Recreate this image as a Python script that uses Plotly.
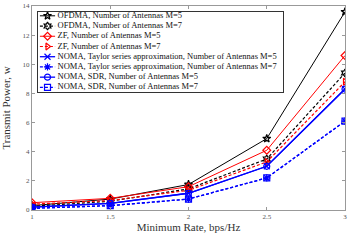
import plotly.graph_objects as go

rates = [1, 1.5, 2, 2.5, 3]
ofdma_m5 = [0.3, 0.75, 1.75, 4.9, 13.6]
ofdma_m7 = [0.25, 0.6, 1.45, 3.5, 9.4]
zf_m5 = [0.5, 0.8, 1.6, 4.1, 10.6]
zf_m7 = [0.4, 0.65, 1.35, 3.3, 8.8]
noma_taylor_m5 = [0.2, 0.45, 1.15, 3.0, 8.3]
noma_taylor_m7 = [0.12, 0.3, 0.75, 2.2, 6.1]
noma_sdr_m5 = [0.2, 0.45, 1.15, 3.0, 8.3]
noma_sdr_m7 = [0.12, 0.3, 0.75, 2.2, 6.1]

names = [
    "OFDMA, Number of Antennas M=5",
    "OFDMA, Number of Antennas M=7",
    "ZF, Number of Antennas M=5",
    "ZF, Number of Antennas M=7",
    "NOMA, Taylor series approximation, Number of Antennas M=5",
    "NOMA, Taylor series approximation, Number of Antennas M=7",
    "NOMA, SDR, Number of Antennas M=5",
    "NOMA, SDR, Number of Antennas M=7",
]
series = [ofdma_m5, ofdma_m7, zf_m5, zf_m7, noma_taylor_m5, noma_taylor_m7, noma_sdr_m5, noma_sdr_m7]
colors = ["black", "black", "red", "red", "blue", "blue", "blue", "blue"]
widths = [1, 1.2, 1, 1.2, 1.3, 1.3, 1.3, 1.3]
dashes = ["solid", "3px,2px", "solid", "3px,2px", "solid", "3px,2px", "solid", "3px,2px"]
symbols = ["star-open", "hexagram-open", "diamond-open", "triangle-right-open",
           "x-thin-open", "asterisk-open", "circle-open", "square-open"]

fig = go.Figure()
for n, s, c, w, d, m in zip(names, series, colors, widths, dashes, symbols):
    fig.add_trace(go.Scatter(
        x=rates, y=s, name=n, mode="lines+markers", showlegend=False,
        line=dict(color=c, width=w, dash=d),
        marker=dict(symbol=m, size=6, color=c, line=dict(color=c, width=1.2)),
    ))

# Compact legend drawn on an auxiliary axis pair (entries indexed 1..N)
leg_top, leg_bot = 0.64, 8.46
fig.add_trace(go.Scatter(
    x=[0, 1, 1, 0, 0], y=[leg_top, leg_top, leg_bot, leg_bot, leg_top],
    xaxis="x2", yaxis="y2", mode="lines", fill="toself", fillcolor="white",
    line=dict(width=0), hoverinfo="skip", showlegend=False,
))
for i, (n, c, w, d, m) in enumerate(zip(names, colors, widths, dashes, symbols), start=1):
    fig.add_trace(go.Scatter(
        x=[0.008, 0.07], y=[i, i], xaxis="x2", yaxis="y2", mode="lines",
        line=dict(color=c, width=w, dash=d), showlegend=False, hoverinfo="skip",
    ))
    fig.add_trace(go.Scatter(
        x=[0.039], y=[i], xaxis="x2", yaxis="y2", mode="markers",
        marker=dict(symbol=m, size=6, color=c, line=dict(color=c, width=1.2)),
        showlegend=False, hoverinfo="skip",
    ))
    fig.add_trace(go.Scatter(
        x=[0.08], y=[i], xaxis="x2", yaxis="y2", mode="text", text=[n],
        textposition="middle right", cliponaxis=False,
        textfont=dict(family="Liberation Serif", size=8.5, color="#111111"),
        showlegend=False, hoverinfo="skip",
    ))

axis_common = dict(
    showgrid=False, zeroline=False, showline=True, linecolor="#999999", linewidth=1,
    mirror="ticks", ticks="inside", ticklen=3, tickcolor="#999999", automargin=False,
    tickfont=dict(family="Liberation Serif", size=7, color="#555555"),
)
fig.update_layout(
    width=360, height=247,
    margin=dict(l=32, r=15, t=6, b=37),
    paper_bgcolor="white", plot_bgcolor="white",
    font=dict(family="Liberation Serif", color="#333333"),
    xaxis=dict(range=[1, 3], tickvals=[1, 1.5, 2, 2.5, 3], ticktext=["1", "1.5", "2", "2.5", "3"],
               title=dict(text="Minimum Rate, bps/Hz", font=dict(size=11, family="Liberation Serif"),
                          standoff=1),
               **axis_common),
    yaxis=dict(range=[0, 14], tickvals=list(range(0, 15, 2)),
               title=dict(text="Transmit Power, w", font=dict(size=11, family="Liberation Serif")),
               **axis_common),
    xaxis2=dict(domain=[0.019, 0.802], range=[0, 1], anchor="y2", visible=True,
                showgrid=False, zeroline=False, showticklabels=False, ticks="",
                showline=True, mirror=True, linecolor="#333333", linewidth=1),
    yaxis2=dict(domain=[0.578, 0.97], range=[leg_bot, leg_top], anchor="x2",
                showgrid=False, zeroline=False, showticklabels=False, ticks="",
                showline=True, mirror=True, linecolor="#333333", linewidth=1),
    showlegend=False,
)
fig.write_html("out.html", config={"displayModeBar": False},
               post_script="document.body.style.margin='0';")
